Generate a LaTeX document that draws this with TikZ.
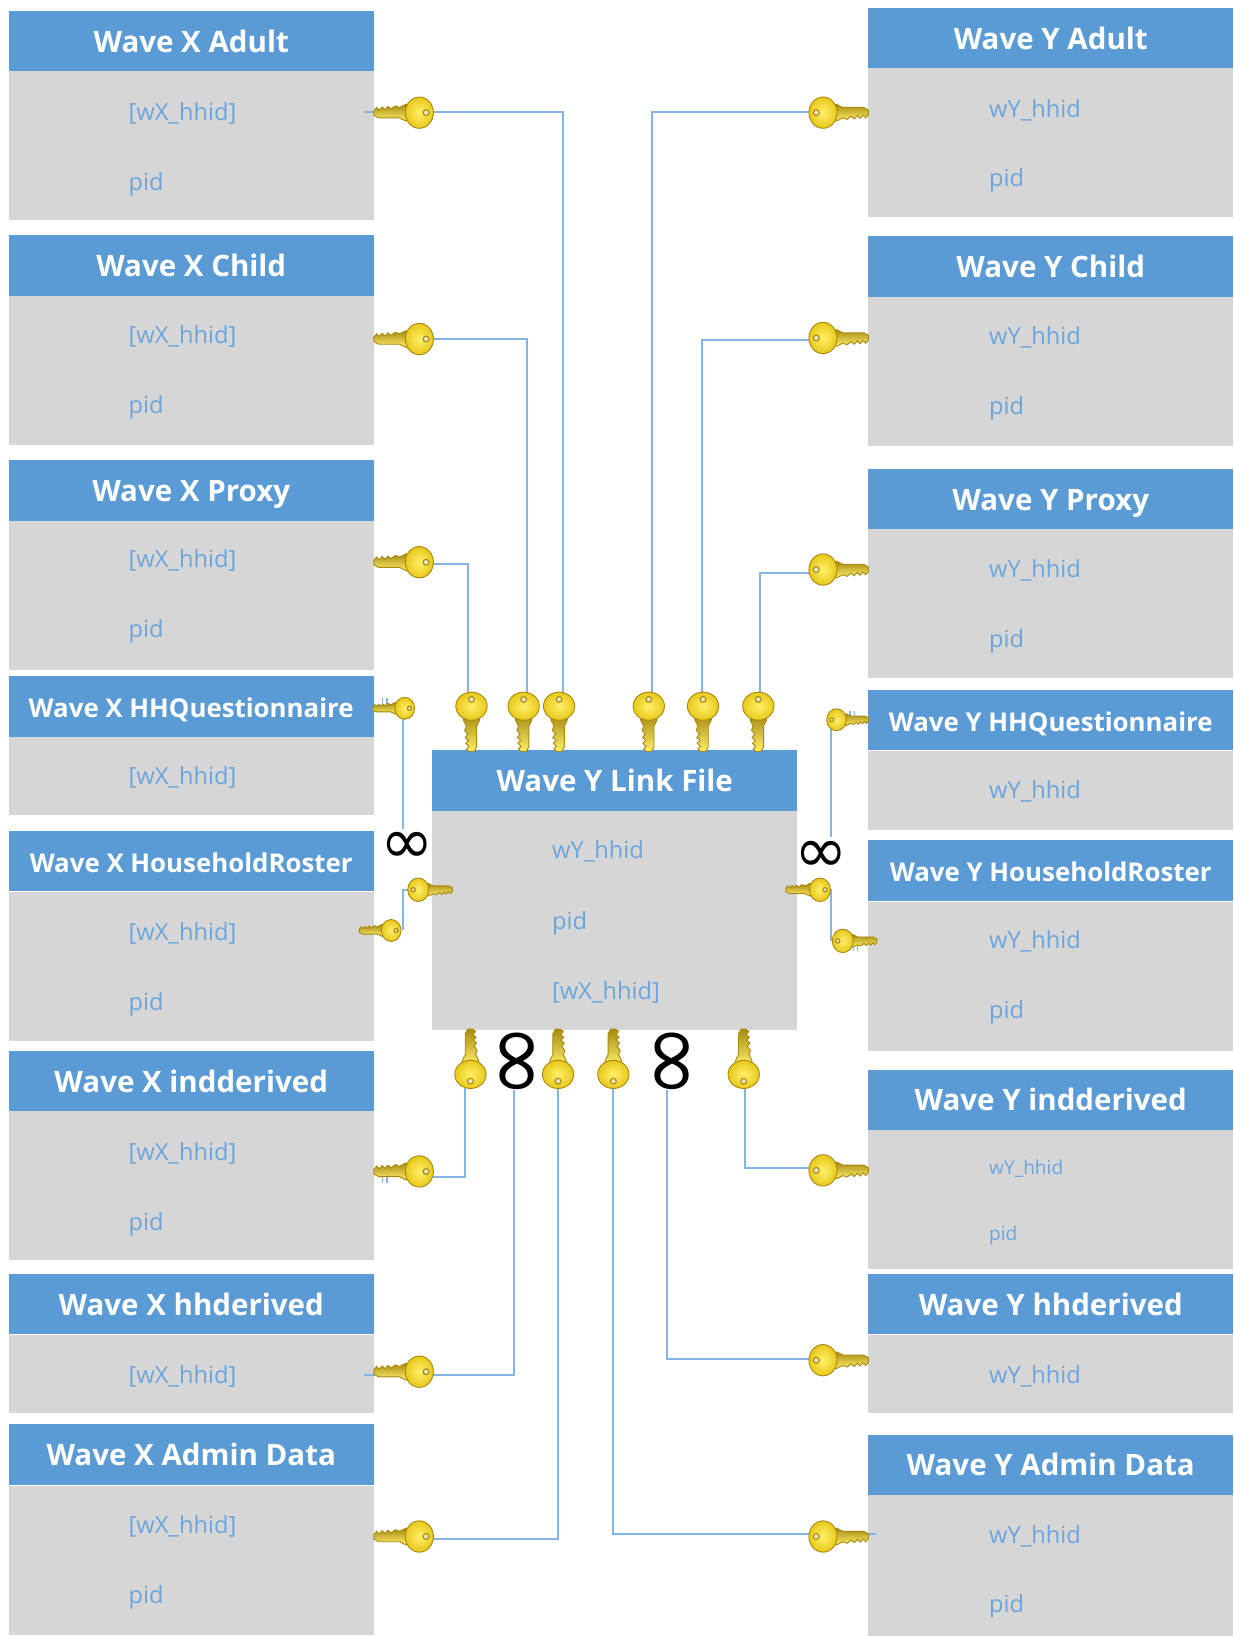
\documentclass[tikz,border=0pt]{standalone}
\usepackage{fontspec}
\setmainfont{Open Sans}
\newfontfamily\markfont{DejaVu Sans}
\definecolor{headblue}{HTML}{5B9BD5}
\definecolor{fieldblue}{HTML}{6CA5DC}
\definecolor{linkblue}{HTML}{85B5E2}
\definecolor{bodygrey}{HTML}{D6D6D6}
\definecolor{keygold}{HTML}{E8C81A}
\definecolor{keylight}{HTML}{FFF06A}
\definecolor{keyedge}{HTML}{A88A10}
\tikzset{
    headbox/.style={rectangle, fill=headblue, text=white, minimum width=7cm, minimum height=1.16cm, anchor=north west, inner sep=0pt, text height=14.1pt, text depth=2pt, font=\fontsize{16.1}{18}\selectfont\bfseries},
    longhead/.style={headbox, font=\fontsize{14.1}{16}\selectfont\bfseries},
    bodybox/.style={rectangle, fill=bodygrey, minimum width=7cm, minimum height=2.86cm, anchor=north west, inner sep=0pt},
    shortbody/.style={bodybox, minimum height=1.5cm},
    fieldtext/.style={anchor=west, inner sep=0pt, text=fieldblue, text height=12.4pt, text depth=3pt, font=\fontsize{12.9}{14}\selectfont},
    smallfield/.style={fieldtext, font=\fontsize{10.4}{12}\selectfont},
    link/.style={draw=linkblue, line width=1.1pt},
    manymark/.style={inner sep=0pt, text=black, font=\fontsize{35}{35}\markfont},
    tallmark/.style={manymark, rotate=90, font=\fontsize{50}{50}\markfont},
    tinymark/.style={inner sep=0pt, text=linkblue, rotate=90, font=\fontsize{9}{9}\markfont},
    twotick/.pic={
        \draw[link, line width=0.7pt] (-2,-3) -- (-2,3) (2,-3) -- (2,3);
    },
    goldkey/.pic={
        \shade[draw=keyedge, line width=0.5pt, top color=keyedge, bottom color=keylight] (8,-6) -- (13,-8) -- (19,-5) -- (39,-5) -- (43.5,-2.5) -- (43.5,2) -- (41,5) -- (38.5,2.5) -- (35.5,5.5) -- (33,2.8) -- (30,6) -- (27,3.5) -- (23,6.5) -- (19,5) -- (13,8) -- (8,6) -- cycle;
        \shade[draw=keyedge, line width=0.5pt, inner color=keylight, outer color=keygold] (0,0) ellipse (13.5 and 15);
        \filldraw[fill=white!75!keyedge, draw=keyedge, line width=0.6pt] (-6.5,0) circle (2.8);
    }
}
\begin{document}
\begin{tikzpicture}[x=0.02cm, y=-0.02cm]
    \useasboundingbox (0,0) rectangle (1183,1568.4);

    % Wave X tables
    \node[bodybox] (xAdult) at (8,68) {};
    \node[headbox] (xAdultHead) at (8,10) {Wave X Adult};
    \node[fieldtext] (xAdultHhid) at (123,107) {[wX\_hhid]};
    \node[fieldtext] (xAdultPid) at (123,174) {pid};

    \node[bodybox] (xChild) at (8,283) {};
    \node[headbox] (xChildHead) at (8,225) {Wave X Child};
    \node[fieldtext] (xChildHhid) at (123,321) {[wX\_hhid]};
    \node[fieldtext] (xChildPid) at (123,388) {pid};

    \node[bodybox] (xProxy) at (8,499) {};
    \node[headbox] (xProxyHead) at (8,441) {Wave X Proxy};
    \node[fieldtext] (xProxyHhid) at (123,536) {[wX\_hhid]};
    \node[fieldtext] (xProxyPid) at (123,603) {pid};

    \node[shortbody] (xQuest) at (8,706) {};
    \node[longhead] (xQuestHead) at (8,648) {Wave X HHQuestionnaire};
    \node[fieldtext] (xQuestHhid) at (123,744) {[wX\_hhid]};

    \node[bodybox] (xRoster) at (8,855) {};
    \node[longhead] (xRosterHead) at (8,796) {Wave X HouseholdRoster};
    \node[fieldtext] (xRosterHhid) at (123,893) {[wX\_hhid]};
    \node[fieldtext] (xRosterPid) at (123,960) {pid};

    \node[bodybox] (xInd) at (8,1065) {};
    \node[headbox] (xIndHead) at (8,1007) {Wave X indderived};
    \node[fieldtext] (xIndHhid) at (123,1104) {[wX\_hhid]};
    \node[fieldtext] (xIndPid) at (123,1171) {pid};

    \node[shortbody] (xHh) at (8,1279) {};
    \node[headbox] (xHhHead) at (8,1221) {Wave X hhderived};
    \node[fieldtext] (xHhHhid) at (123,1318) {[wX\_hhid]};

    \node[bodybox] (xAdmin) at (8,1424) {};
    \node[headbox] (xAdminHead) at (8,1365) {Wave X Admin Data};
    \node[fieldtext] (xAdminHhid) at (123,1462) {[wX\_hhid]};
    \node[fieldtext] (xAdminPid) at (123,1529) {pid};

    % Wave Y tables
    \node[bodybox] (yAdult) at (832,65) {};
    \node[headbox] (yAdultHead) at (832,7) {Wave Y Adult};
    \node[fieldtext] (yAdultHhid) at (948,104) {wY\_hhid};
    \node[fieldtext] (yAdultPid) at (948,171) {pid};

    \node[bodybox] (yChild) at (832,284) {};
    \node[headbox] (yChildHead) at (832,226) {Wave Y Child};
    \node[fieldtext] (yChildHhid) at (948,322) {wY\_hhid};
    \node[fieldtext] (yChildPid) at (948,389) {pid};

    \node[bodybox] (yProxy) at (832,507) {};
    \node[headbox] (yProxyHead) at (832,449) {Wave Y Proxy};
    \node[fieldtext] (yProxyHhid) at (948,545) {wY\_hhid};
    \node[fieldtext] (yProxyPid) at (948,612) {pid};

    \node[shortbody] (yQuest) at (832,720) {};
    \node[longhead] (yQuestHead) at (832,661) {Wave Y HHQuestionnaire};
    \node[fieldtext] (yQuestHhid) at (948,757) {wY\_hhid};

    \node[bodybox] (yRoster) at (832,864) {};
    \node[longhead] (yRosterHead) at (832,805) {Wave Y HouseholdRoster};
    \node[fieldtext] (yRosterHhid) at (948,901) {wY\_hhid};
    \node[fieldtext] (yRosterPid) at (948,968) {pid};

    \node[bodybox, minimum height=2.66cm] (yInd) at (832,1083) {};
    \node[headbox] (yIndHead) at (832,1025) {Wave Y indderived};
    \node[smallfield] (yIndHhid) at (948,1118) {wY\_hhid};
    \node[smallfield] (yIndPid) at (948,1181) {pid};

    \node[shortbody] (yHh) at (832,1279) {};
    \node[headbox] (yHhHead) at (832,1221) {Wave Y hhderived};
    \node[fieldtext] (yHhHhid) at (948,1318) {wY\_hhid};

    \node[bodybox, minimum height=2.72cm] (yAdmin) at (832,1433) {};
    \node[headbox] (yAdminHead) at (832,1375) {Wave Y Admin Data};
    \node[fieldtext] (yAdminHhid) at (948,1471) {wY\_hhid};
    \node[fieldtext] (yAdminPid) at (948,1538) {pid};

    % Link file
    \node[bodybox, minimum height=4.2cm] (link) at (414,777) {};
    \node[headbox] (linkHead) at (414,719) {Wave Y Link File};
    \node[fieldtext] (linkHhidY) at (529,815) {wY\_hhid};
    \node[fieldtext] (linkPid) at (529,883) {pid};
    \node[fieldtext] (linkHhidX) at (529,950) {[wX\_hhid]};

    % Many ends
    \node[manymark] (manyLeft) at (390,813) {∞};
    \node[manymark] (manyRight) at (787,821) {∞};
    \node[tallmark] (manyHh) at (501,1017) {∞};
    \node[tallmark] (manyAdmin) at (649,1017) {∞};
    \coordinate (xQuestEnd) at (386,795);
    \coordinate (yQuestEnd) at (797,802);
    \coordinate (xHhEnd) at (493,1045);
    \coordinate (yHhEnd) at (639,1045);

    % Line ends at the keys
    \coordinate (xAdultKey) at (349,107);
    \coordinate (xChildKey) at (400,325);
    \coordinate (xProxyKey) at (400,541);
    \coordinate (xQuestKey) at (386,680);
    \coordinate (xRosterKey) at (386,892);
    \coordinate (xIndKey) at (400,1128);
    \coordinate (xHhKey) at (349,1318);
    \coordinate (xAdminKey) at (400,1475);
    \coordinate (yAdultKey) at (790,107);
    \coordinate (yChildKey) at (790,326);
    \coordinate (yProxyKey) at (790,549);
    \coordinate (yQuestKey) at (797,690);
    \coordinate (yRosterKey) at (797,902);
    \coordinate (yIndKey) at (790,1120);
    \coordinate (yHhKey) at (790,1303);
    \coordinate (yAdminKey) at (840,1471);
    \coordinate (linkLeftKey) at (400,853);
    \coordinate (linkRightKey) at (785,853);
    \coordinate (topAdultX) at (540,680);
    \coordinate (topChildX) at (505,680);
    \coordinate (topProxyX) at (449,680);
    \coordinate (topAdultY) at (625,680);
    \coordinate (topChildY) at (673,680);
    \coordinate (topProxyY) at (729,680);
    \coordinate (botIndX) at (446,1030);
    \coordinate (botAdminX) at (535,1030);
    \coordinate (botAdminY) at (588,1030);
    \coordinate (botIndY) at (714,1030);

    % Edges
    \draw[link] (xAdultKey) -| (topAdultX);
    \draw[link] (xChildKey) -| (topChildX);
    \draw[link] (xProxyKey) -| (topProxyX);
    \draw[link] (yAdultKey) -| (topAdultY);
    \draw[link] (yChildKey) -| (topChildY);
    \draw[link] (yProxyKey) -| (topProxyY);
    \draw[link] (xQuestKey) -- (xQuestEnd);
    \draw[link] (yQuestKey) -- (yQuestEnd);
    \draw[link] (linkLeftKey) -| (xRosterKey);
    \draw[link] (linkRightKey) -| (yRosterKey);
    \draw[link] (xIndKey) -| (botIndX);
    \draw[link] (xHhKey) -| (xHhEnd);
    \draw[link] (xAdminKey) -| (botAdminX);
    \draw[link] (yAdminKey) -| (botAdminY);
    \draw[link] (yHhKey) -| (yHhEnd);
    \draw[link] (yIndKey) -| (botIndY);

    % Small marks behind the keys
    \node[tinymark] (markTopA) at (451,706) {∞};
    \node[tinymark] (markTopB) at (503,706) {∞};
    \node[tinymark] (markTopC) at (537,706) {∞};
    \node[tinymark] (markTopD) at (622,706) {∞};
    \node[tinymark] (markTopE) at (674,706) {∞};
    \node[tinymark] (markTopF) at (727,706) {∞};
    \pic at (369,672) {twotick};
    \pic at (369,1131) {twotick};
    \pic at (817,685) {twotick};
    \pic at (820,909) {twotick};

    % Keys
    \pic[rotate=180] at (402,108) {goldkey};
    \pic[rotate=180] at (402,325) {goldkey};
    \pic[rotate=180] at (402,539) {goldkey};
    \pic[rotate=180, scale=0.7] at (388,679) {goldkey};
    \pic[rotate=180, scale=0.7] at (375,892) {goldkey};
    \pic[rotate=180] at (402,1123) {goldkey};
    \pic[rotate=180] at (402,1315) {goldkey};
    \pic[rotate=180] at (402,1473) {goldkey};
    \pic[rotate=180, scale=0.75] at (786,853) {goldkey};
    \pic at (789,108) {goldkey};
    \pic at (789,324) {goldkey};
    \pic at (789,546) {goldkey};
    \pic[scale=0.7] at (802,690) {goldkey};
    \pic[scale=0.75] at (808,902) {goldkey};
    \pic at (789,1122) {goldkey};
    \pic at (789,1304) {goldkey};
    \pic at (789,1473) {goldkey};
    \pic[scale=0.75] at (401,853) {goldkey};
    \pic[rotate=-90] at (452,677) {goldkey};
    \pic[rotate=-90] at (502,677) {goldkey};
    \pic[rotate=-90] at (536,677) {goldkey};
    \pic[rotate=-90] at (622,677) {goldkey};
    \pic[rotate=-90] at (674,677) {goldkey};
    \pic[rotate=-90] at (727,677) {goldkey};
    \pic[rotate=90] at (451,1030) {goldkey};
    \pic[rotate=90] at (535,1030) {goldkey};
    \pic[rotate=90] at (588,1030) {goldkey};
    \pic[rotate=90] at (713,1030) {goldkey};
\end{tikzpicture}
\end{document}
